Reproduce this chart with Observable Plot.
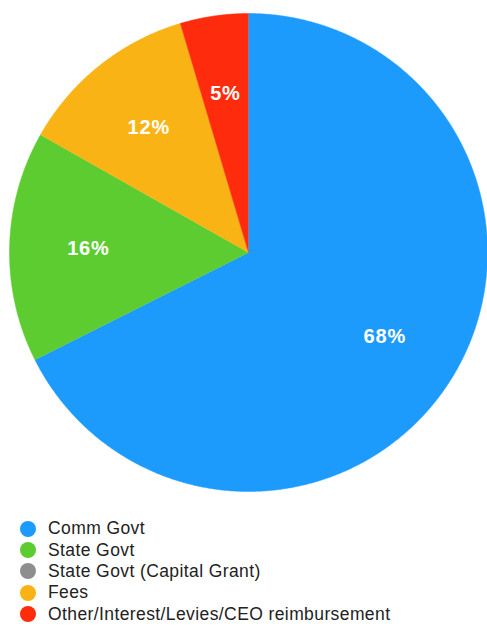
<!DOCTYPE html>
<html>
<head>
<meta charset="utf-8">
<script src="https://cdn.jsdelivr.net/npm/d3@7"></script>
<script src="https://cdn.jsdelivr.net/npm/@observablehq/plot@0.6"></script>
<style>
  html, body { margin: 0; padding: 0; background: #fff; }
  body { width: 487px; height: 626px; overflow: hidden; font-family: "Liberation Sans", Arial, Helvetica, sans-serif; }
  #legend { position: absolute; left: 20px; top: 518px; }
  .item { display: flex; align-items: center; height: 21.4px; font-size: 17.5px; letter-spacing: 0.4px; color: #222; }
  .dot { width: 16px; height: 16px; border-radius: 50%; margin-right: 12px; flex: none; }
</style>
</head>
<body>
<div id="chart"></div>
<div id="legend"></div>
<script>
// Data
const categories = ["Comm Govt", "State Govt", "State Govt (Capital Grant)", "Fees", "Other/Interest/Levies/CEO reimbursement"];
const values = [67.6, 15.6, 0, 12.2, 4.6];
const labels = ["68%", "16%", "", "12%", "5%"];
const colors = ["#1d9bfd", "#5ccc30", "#8e8e8e", "#f9b314", "#fe2c0c"];

// Build slice geometry from d3.pie (angles), points in unit coordinates
const pie = d3.pie().sort(null).value(d => d.value)(categories.map((c, i) => ({cat: c, value: values[i], label: labels[i]})));
const polyPts = [];
const labelPts = [];
pie.forEach(s => {
  if (s.endAngle - s.startAngle <= 0) return;
  const c = s.data.cat;
  polyPts.push({cat: c, x: 0, y: 0});
  const n = Math.max(4, Math.ceil((s.endAngle - s.startAngle) / 0.005));
  for (let k = 0; k <= n; k++) {
    const a = s.startAngle + (s.endAngle - s.startAngle) * k / n;
    polyPts.push({cat: c, x: Math.sin(a), y: Math.cos(a)});
  }
  const m = (s.startAngle + s.endAngle) / 2;
  labelPts.push({cat: c, label: s.data.label, x: 0.67 * Math.sin(m), y: 0.67 * Math.cos(m)});
});

const R = 239;
const plot = Plot.plot({
  width: 487,
  height: 500,
  marginLeft: 9,
  marginRight: 487 - 9 - 2 * R,
  marginTop: 13,
  marginBottom: 500 - 13 - 2 * R,
  x: {domain: [-1, 1], axis: null},
  y: {domain: [-1, 1], axis: null},
  color: {domain: categories, range: colors},
  style: {fontFamily: "Liberation Sans, Arial, sans-serif"},
  marks: [
    Plot.line(polyPts, {x: "x", y: "y", z: "cat", fill: "cat", stroke: "cat", strokeWidth: 0.5, curve: "linear"}),
    Plot.text(labelPts, {x: "x", y: "y", text: "label", fill: "white", fontSize: 20, fontWeight: 600})
  ]
});
plot.querySelectorAll("text").forEach(t => t.style.letterSpacing = "0.8px");
document.getElementById("chart").appendChild(plot);

const legend = document.getElementById("legend");
categories.forEach((c, i) => {
  const d = document.createElement("div");
  d.className = "item";
  const dot = document.createElement("span");
  dot.className = "dot";
  dot.style.background = colors[i];
  const t = document.createElement("span");
  t.textContent = c;
  d.appendChild(dot); d.appendChild(t);
  legend.appendChild(d);
});
</script>
</body>
</html>
